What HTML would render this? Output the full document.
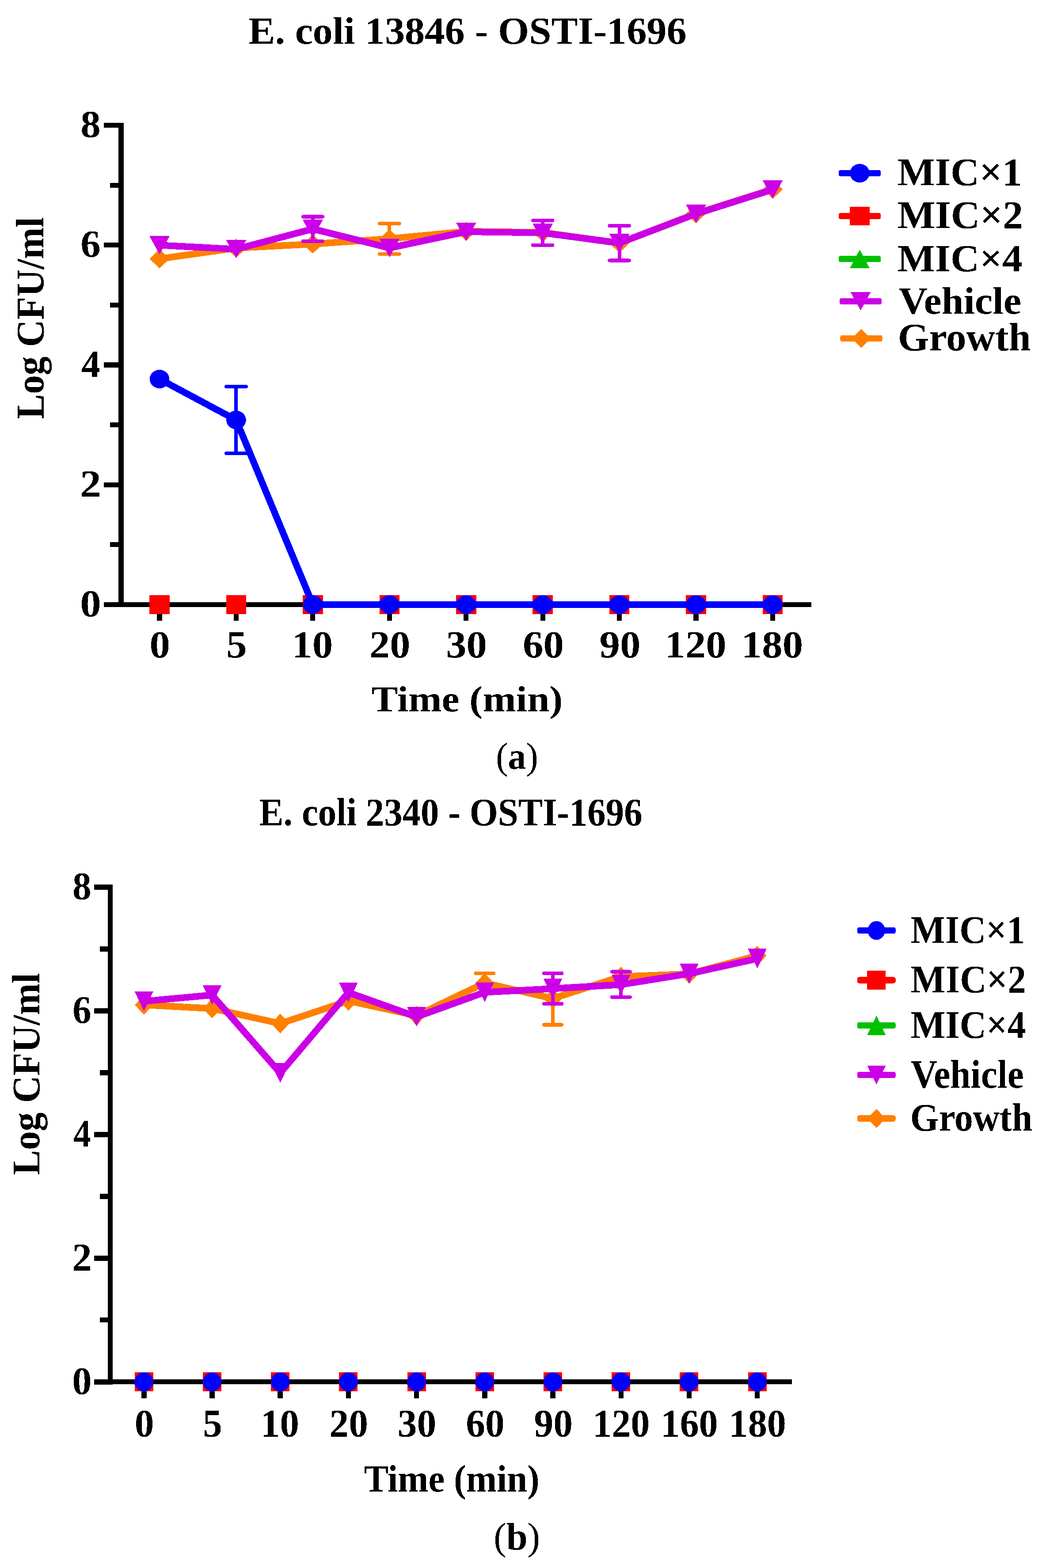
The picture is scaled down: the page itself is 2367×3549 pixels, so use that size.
<!DOCTYPE html>
<html><head><meta charset="utf-8"><title>Time-kill curves</title><style>html,body{margin:0;padding:0;background:#fff;}svg{display:block;}</style></head><body>
<svg width="2367" height="3549" viewBox="0 0 2367 3549" font-family="Liberation Serif, Times New Roman, serif">
<rect width="2367" height="3549" fill="#fff"/>
<defs><filter id="bin" x="0" y="0" width="100%" height="100%" filterUnits="userSpaceOnUse"><feComponentTransfer><feFuncA type="discrete" tableValues="0 1"/></feComponentTransfer></filter></defs>
<g filter="url(#bin)">
<rect x="268.20" y="278.00" width="11.60" height="1096.00" fill="#000"/>
<rect x="235.00" y="1362.80" width="34.20" height="11.20" fill="#000"/>
<rect x="249.00" y="1227.19" width="20.20" height="11.20" fill="#000"/>
<rect x="235.00" y="1091.58" width="34.20" height="11.20" fill="#000"/>
<rect x="249.00" y="955.96" width="20.20" height="11.20" fill="#000"/>
<rect x="235.00" y="820.35" width="34.20" height="11.20" fill="#000"/>
<rect x="249.00" y="684.74" width="20.20" height="11.20" fill="#000"/>
<rect x="235.00" y="549.12" width="34.20" height="11.20" fill="#000"/>
<rect x="249.00" y="413.51" width="20.20" height="11.20" fill="#000"/>
<rect x="235.00" y="277.90" width="34.20" height="11.20" fill="#000"/>
<rect x="235.00" y="1362.80" width="1601.00" height="11.20" fill="#000"/>
<rect x="355.40" y="1368.40" width="11.20" height="36.60" fill="#000"/>
<rect x="528.84" y="1368.40" width="11.20" height="36.60" fill="#000"/>
<rect x="702.27" y="1368.40" width="11.20" height="36.60" fill="#000"/>
<rect x="875.71" y="1368.40" width="11.20" height="36.60" fill="#000"/>
<rect x="1049.15" y="1368.40" width="11.20" height="36.60" fill="#000"/>
<rect x="1222.59" y="1368.40" width="11.20" height="36.60" fill="#000"/>
<rect x="1396.03" y="1368.40" width="11.20" height="36.60" fill="#000"/>
<rect x="1569.46" y="1368.40" width="11.20" height="36.60" fill="#000"/>
<rect x="1742.90" y="1368.40" width="11.20" height="36.60" fill="#000"/>
<polyline points="361.00,585.80 534.44,561.40 707.88,552.30 881.31,540.40 1054.75,523.70 1228.19,526.00 1401.62,550.50 1575.06,483.40 1748.50,428.40" fill="none" stroke="#FF8000" stroke-width="15.2" stroke-linejoin="round" stroke-linecap="butt"/>
<g stroke="#FF8000" stroke-width="8" stroke-linecap="round" fill="none"><line x1="881.31" y1="505.90" x2="881.31" y2="574.80" stroke-linecap="butt"/><line x1="859.01" y1="505.90" x2="903.61" y2="505.90"/><line x1="859.01" y1="574.80" x2="903.61" y2="574.80"/></g>
<polygon points="361.00,564.30 383.80,585.80 361.00,607.30 338.20,585.80" fill="#FF8000"/>
<polygon points="534.44,539.90 557.24,561.40 534.44,582.90 511.64,561.40" fill="#FF8000"/>
<polygon points="707.88,530.80 730.67,552.30 707.88,573.80 685.08,552.30" fill="#FF8000"/>
<polygon points="881.31,518.90 904.11,540.40 881.31,561.90 858.51,540.40" fill="#FF8000"/>
<polygon points="1054.75,502.20 1077.55,523.70 1054.75,545.20 1031.95,523.70" fill="#FF8000"/>
<polygon points="1228.19,504.50 1250.99,526.00 1228.19,547.50 1205.39,526.00" fill="#FF8000"/>
<polygon points="1401.62,529.00 1424.42,550.50 1401.62,572.00 1378.83,550.50" fill="#FF8000"/>
<polygon points="1575.06,461.90 1597.86,483.40 1575.06,504.90 1552.26,483.40" fill="#FF8000"/>
<polygon points="1748.50,406.90 1771.30,428.40 1748.50,449.90 1725.70,428.40" fill="#FF8000"/>
<polyline points="361.00,555.00 534.44,564.00 707.88,518.20 881.31,561.20 1054.75,524.50 1228.19,527.00 1401.62,550.00 1575.06,484.00 1748.50,429.00" fill="none" stroke="#CC00E6" stroke-width="15.2" stroke-linejoin="round" stroke-linecap="butt"/>
<g stroke="#CC00E6" stroke-width="8" stroke-linecap="round" fill="none"><line x1="707.88" y1="490.50" x2="707.88" y2="546.00" stroke-linecap="butt"/><line x1="685.58" y1="490.50" x2="730.17" y2="490.50"/><line x1="685.58" y1="546.00" x2="730.17" y2="546.00"/></g>
<g stroke="#CC00E6" stroke-width="8" stroke-linecap="round" fill="none"><line x1="1228.19" y1="499.00" x2="1228.19" y2="554.80" stroke-linecap="butt"/><line x1="1205.89" y1="499.00" x2="1250.49" y2="499.00"/><line x1="1205.89" y1="554.80" x2="1250.49" y2="554.80"/></g>
<g stroke="#CC00E6" stroke-width="8" stroke-linecap="round" fill="none"><line x1="1401.62" y1="510.90" x2="1401.62" y2="589.50" stroke-linecap="butt"/><line x1="1379.33" y1="510.90" x2="1423.92" y2="510.90"/><line x1="1379.33" y1="589.50" x2="1423.92" y2="589.50"/></g>
<polygon points="338.15,534.20 383.85,534.20 361.00,575.80" fill="#CC00E6"/>
<polygon points="511.59,543.20 557.29,543.20 534.44,584.80" fill="#CC00E6"/>
<polygon points="685.02,497.40 730.73,497.40 707.88,539.00" fill="#CC00E6"/>
<polygon points="858.46,540.40 904.16,540.40 881.31,582.00" fill="#CC00E6"/>
<polygon points="1031.90,503.70 1077.60,503.70 1054.75,545.30" fill="#CC00E6"/>
<polygon points="1205.34,506.20 1251.04,506.20 1228.19,547.80" fill="#CC00E6"/>
<polygon points="1378.78,529.20 1424.47,529.20 1401.62,570.80" fill="#CC00E6"/>
<polygon points="1552.21,463.20 1597.91,463.20 1575.06,504.80" fill="#CC00E6"/>
<polygon points="1725.65,408.20 1771.35,408.20 1748.50,449.80" fill="#CC00E6"/>
<polygon points="361.00,1347.00 383.75,1389.80 338.25,1389.80" fill="#00C000"/>
<polygon points="534.44,1347.00 557.19,1389.80 511.69,1389.80" fill="#00C000"/>
<polygon points="707.88,1347.00 730.62,1389.80 685.12,1389.80" fill="#00C000"/>
<polygon points="881.31,1347.00 904.06,1389.80 858.56,1389.80" fill="#00C000"/>
<polygon points="1054.75,1347.00 1077.50,1389.80 1032.00,1389.80" fill="#00C000"/>
<polygon points="1228.19,1347.00 1250.94,1389.80 1205.44,1389.80" fill="#00C000"/>
<polygon points="1401.62,1347.00 1424.38,1389.80 1378.88,1389.80" fill="#00C000"/>
<polygon points="1575.06,1347.00 1597.81,1389.80 1552.31,1389.80" fill="#00C000"/>
<polygon points="1748.50,1347.00 1771.25,1389.80 1725.75,1389.80" fill="#00C000"/>
<rect x="338.20" y="1347.00" width="45.60" height="42.80" fill="#FF0000"/>
<rect x="511.64" y="1347.00" width="45.60" height="42.80" fill="#FF0000"/>
<rect x="685.08" y="1347.00" width="45.60" height="42.80" fill="#FF0000"/>
<rect x="858.51" y="1347.00" width="45.60" height="42.80" fill="#FF0000"/>
<rect x="1031.95" y="1347.00" width="45.60" height="42.80" fill="#FF0000"/>
<rect x="1205.39" y="1347.00" width="45.60" height="42.80" fill="#FF0000"/>
<rect x="1378.83" y="1347.00" width="45.60" height="42.80" fill="#FF0000"/>
<rect x="1552.26" y="1347.00" width="45.60" height="42.80" fill="#FF0000"/>
<rect x="1725.70" y="1347.00" width="45.60" height="42.80" fill="#FF0000"/>
<polyline points="361.00,857.90 534.44,950.60 707.88,1368.40 881.31,1368.40 1054.75,1368.40 1228.19,1368.40 1401.62,1368.40 1575.06,1368.40 1748.50,1368.40" fill="none" stroke="#0000FF" stroke-width="15.2" stroke-linejoin="round" stroke-linecap="butt"/>
<g stroke="#0000FF" stroke-width="8" stroke-linecap="round" fill="none"><line x1="534.44" y1="875.00" x2="534.44" y2="1025.90" stroke-linecap="butt"/><line x1="511.94" y1="875.00" x2="556.94" y2="875.00"/><line x1="511.94" y1="1025.90" x2="556.94" y2="1025.90"/></g>
<ellipse cx="361.00" cy="857.90" rx="22.30" ry="21.10" fill="#0000FF"/>
<ellipse cx="534.44" cy="950.60" rx="22.30" ry="21.10" fill="#0000FF"/>
<ellipse cx="707.88" cy="1368.40" rx="22.30" ry="21.10" fill="#0000FF"/>
<ellipse cx="881.31" cy="1368.40" rx="22.30" ry="21.10" fill="#0000FF"/>
<ellipse cx="1054.75" cy="1368.40" rx="22.30" ry="21.10" fill="#0000FF"/>
<ellipse cx="1228.19" cy="1368.40" rx="22.30" ry="21.10" fill="#0000FF"/>
<ellipse cx="1401.62" cy="1368.40" rx="22.30" ry="21.10" fill="#0000FF"/>
<ellipse cx="1575.06" cy="1368.40" rx="22.30" ry="21.10" fill="#0000FF"/>
<ellipse cx="1748.50" cy="1368.40" rx="22.30" ry="21.10" fill="#0000FF"/>
<rect x="244.00" y="2001.80" width="11.00" height="1131.65" fill="#000"/>
<rect x="213.00" y="3121.95" width="32.00" height="11.50" fill="#000"/>
<rect x="226.00" y="2981.97" width="19.00" height="11.50" fill="#000"/>
<rect x="213.00" y="2842.00" width="32.00" height="11.50" fill="#000"/>
<rect x="226.00" y="2702.03" width="19.00" height="11.50" fill="#000"/>
<rect x="213.00" y="2562.05" width="32.00" height="11.50" fill="#000"/>
<rect x="226.00" y="2422.07" width="19.00" height="11.50" fill="#000"/>
<rect x="213.00" y="2282.10" width="32.00" height="11.50" fill="#000"/>
<rect x="226.00" y="2142.12" width="19.00" height="11.50" fill="#000"/>
<rect x="213.00" y="2002.15" width="32.00" height="11.50" fill="#000"/>
<rect x="213.00" y="3121.95" width="1579.20" height="11.50" fill="#000"/>
<rect x="320.05" y="3127.70" width="11.50" height="37.10" fill="#000"/>
<rect x="474.26" y="3127.70" width="11.50" height="37.10" fill="#000"/>
<rect x="628.47" y="3127.70" width="11.50" height="37.10" fill="#000"/>
<rect x="782.68" y="3127.70" width="11.50" height="37.10" fill="#000"/>
<rect x="936.89" y="3127.70" width="11.50" height="37.10" fill="#000"/>
<rect x="1091.11" y="3127.70" width="11.50" height="37.10" fill="#000"/>
<rect x="1245.32" y="3127.70" width="11.50" height="37.10" fill="#000"/>
<rect x="1399.53" y="3127.70" width="11.50" height="37.10" fill="#000"/>
<rect x="1553.74" y="3127.70" width="11.50" height="37.10" fill="#000"/>
<rect x="1707.95" y="3127.70" width="11.50" height="37.10" fill="#000"/>
<polyline points="325.80,2274.40 480.01,2282.60 634.22,2316.60 788.43,2265.30 942.64,2298.80 1096.86,2224.90 1251.07,2260.00 1405.28,2210.40 1559.49,2204.40 1713.70,2163.10" fill="none" stroke="#FF8000" stroke-width="15.2" stroke-linejoin="round" stroke-linecap="butt"/>
<g stroke="#FF8000" stroke-width="8" stroke-linecap="round" fill="none"><line x1="1096.86" y1="2224.90" x2="1096.86" y2="2202.90" stroke-linecap="butt"/><line x1="1076.46" y1="2202.90" x2="1117.26" y2="2202.90"/></g>
<g stroke="#FF8000" stroke-width="8" stroke-linecap="round" fill="none"><line x1="1251.07" y1="2260.00" x2="1251.07" y2="2319.40" stroke-linecap="butt"/><line x1="1230.67" y1="2319.40" x2="1271.47" y2="2319.40"/></g>
<polygon points="325.80,2252.00 346.50,2274.40 325.80,2296.80 305.10,2274.40" fill="#FF8000"/>
<polygon points="480.01,2260.20 500.71,2282.60 480.01,2305.00 459.31,2282.60" fill="#FF8000"/>
<polygon points="634.22,2294.20 654.92,2316.60 634.22,2339.00 613.52,2316.60" fill="#FF8000"/>
<polygon points="788.43,2242.90 809.13,2265.30 788.43,2287.70 767.73,2265.30" fill="#FF8000"/>
<polygon points="942.64,2276.40 963.34,2298.80 942.64,2321.20 921.94,2298.80" fill="#FF8000"/>
<polygon points="1096.86,2202.50 1117.56,2224.90 1096.86,2247.30 1076.16,2224.90" fill="#FF8000"/>
<polygon points="1251.07,2237.60 1271.77,2260.00 1251.07,2282.40 1230.37,2260.00" fill="#FF8000"/>
<polygon points="1405.28,2188.00 1425.98,2210.40 1405.28,2232.80 1384.58,2210.40" fill="#FF8000"/>
<polygon points="1559.49,2182.00 1580.19,2204.40 1559.49,2226.80 1538.79,2204.40" fill="#FF8000"/>
<polygon points="1713.70,2140.70 1734.40,2163.10 1713.70,2185.50 1693.00,2163.10" fill="#FF8000"/>
<polyline points="325.80,2266.20 480.01,2252.20 634.22,2428.70 788.43,2246.30 942.64,2301.50 1096.86,2245.90 1251.07,2237.70 1405.28,2228.60 1559.49,2203.80 1713.70,2169.80" fill="none" stroke="#CC00E6" stroke-width="15.2" stroke-linejoin="round" stroke-linecap="butt"/>
<g stroke="#CC00E6" stroke-width="8" stroke-linecap="round" fill="none"><line x1="1251.07" y1="2203.00" x2="1251.07" y2="2271.90" stroke-linecap="butt"/><line x1="1230.67" y1="2203.00" x2="1271.47" y2="2203.00"/><line x1="1230.67" y1="2271.90" x2="1271.47" y2="2271.90"/></g>
<g stroke="#CC00E6" stroke-width="8" stroke-linecap="round" fill="none"><line x1="1405.28" y1="2199.40" x2="1405.28" y2="2256.80" stroke-linecap="butt"/><line x1="1384.88" y1="2199.40" x2="1425.68" y2="2199.40"/><line x1="1384.88" y1="2256.80" x2="1425.68" y2="2256.80"/></g>
<polygon points="304.60,2244.00 347.00,2244.00 325.80,2288.40" fill="#CC00E6"/>
<polygon points="458.81,2230.00 501.21,2230.00 480.01,2274.40" fill="#CC00E6"/>
<polygon points="613.02,2406.50 655.42,2406.50 634.22,2450.90" fill="#CC00E6"/>
<polygon points="767.23,2224.10 809.63,2224.10 788.43,2268.50" fill="#CC00E6"/>
<polygon points="921.44,2279.30 963.84,2279.30 942.64,2323.70" fill="#CC00E6"/>
<polygon points="1075.66,2223.70 1118.06,2223.70 1096.86,2268.10" fill="#CC00E6"/>
<polygon points="1229.87,2215.50 1272.27,2215.50 1251.07,2259.90" fill="#CC00E6"/>
<polygon points="1384.08,2206.40 1426.48,2206.40 1405.28,2250.80" fill="#CC00E6"/>
<polygon points="1538.29,2181.60 1580.69,2181.60 1559.49,2226.00" fill="#CC00E6"/>
<polygon points="1692.50,2147.60 1734.90,2147.60 1713.70,2192.00" fill="#CC00E6"/>
<polygon points="325.80,3106.20 346.80,3149.20 304.80,3149.20" fill="#00C000"/>
<polygon points="480.01,3106.20 501.01,3149.20 459.01,3149.20" fill="#00C000"/>
<polygon points="634.22,3106.20 655.22,3149.20 613.22,3149.20" fill="#00C000"/>
<polygon points="788.43,3106.20 809.43,3149.20 767.43,3149.20" fill="#00C000"/>
<polygon points="942.64,3106.20 963.64,3149.20 921.64,3149.20" fill="#00C000"/>
<polygon points="1096.86,3106.20 1117.86,3149.20 1075.86,3149.20" fill="#00C000"/>
<polygon points="1251.07,3106.20 1272.07,3149.20 1230.07,3149.20" fill="#00C000"/>
<polygon points="1405.28,3106.20 1426.28,3149.20 1384.28,3149.20" fill="#00C000"/>
<polygon points="1559.49,3106.20 1580.49,3149.20 1538.49,3149.20" fill="#00C000"/>
<polygon points="1713.70,3106.20 1734.70,3149.20 1692.70,3149.20" fill="#00C000"/>
<rect x="304.80" y="3106.20" width="42.00" height="43.00" fill="#FF0000"/>
<rect x="459.01" y="3106.20" width="42.00" height="43.00" fill="#FF0000"/>
<rect x="613.22" y="3106.20" width="42.00" height="43.00" fill="#FF0000"/>
<rect x="767.43" y="3106.20" width="42.00" height="43.00" fill="#FF0000"/>
<rect x="921.64" y="3106.20" width="42.00" height="43.00" fill="#FF0000"/>
<rect x="1075.86" y="3106.20" width="42.00" height="43.00" fill="#FF0000"/>
<rect x="1230.07" y="3106.20" width="42.00" height="43.00" fill="#FF0000"/>
<rect x="1384.28" y="3106.20" width="42.00" height="43.00" fill="#FF0000"/>
<rect x="1538.49" y="3106.20" width="42.00" height="43.00" fill="#FF0000"/>
<rect x="1692.70" y="3106.20" width="42.00" height="43.00" fill="#FF0000"/>
<ellipse cx="325.80" cy="3127.70" rx="21.00" ry="21.50" fill="#0000FF"/>
<ellipse cx="480.01" cy="3127.70" rx="21.00" ry="21.50" fill="#0000FF"/>
<ellipse cx="634.22" cy="3127.70" rx="21.00" ry="21.50" fill="#0000FF"/>
<ellipse cx="788.43" cy="3127.70" rx="21.00" ry="21.50" fill="#0000FF"/>
<ellipse cx="942.64" cy="3127.70" rx="21.00" ry="21.50" fill="#0000FF"/>
<ellipse cx="1096.86" cy="3127.70" rx="21.00" ry="21.50" fill="#0000FF"/>
<ellipse cx="1251.07" cy="3127.70" rx="21.00" ry="21.50" fill="#0000FF"/>
<ellipse cx="1405.28" cy="3127.70" rx="21.00" ry="21.50" fill="#0000FF"/>
<ellipse cx="1559.49" cy="3127.70" rx="21.00" ry="21.50" fill="#0000FF"/>
<ellipse cx="1713.70" cy="3127.70" rx="21.00" ry="21.50" fill="#0000FF"/>
<rect x="1898.00" y="385.00" width="95.00" height="14" rx="4" ry="4" fill="#0000FF"/>
<ellipse cx="1945.50" cy="392.00" rx="22.20" ry="21.10" fill="#0000FF"/>
<text transform="translate(2030.39,419.10) scale(1.0117,1)" font-size="89.38" font-weight="bold">MIC×1</text>
<rect x="1898.00" y="482.00" width="95.00" height="14" rx="4" ry="4" fill="#FF0000"/>
<rect x="1923.00" y="467.90" width="45.00" height="42.20" fill="#FF0000"/>
<text transform="translate(2030.38,515.70) scale(1.0260,1)" font-size="88.77" font-weight="bold">MIC×2</text>
<rect x="1898.00" y="579.20" width="95.00" height="14" rx="4" ry="4" fill="#00C000"/>
<polygon points="1945.50,565.05 1968.00,607.35 1923.00,607.35" fill="#00C000"/>
<text transform="translate(2030.39,613.50) scale(1.0366,1)" font-size="87.38" font-weight="bold">MIC×4</text>
<rect x="1900.00" y="675.00" width="95.00" height="14" rx="4" ry="4" fill="#CC00E6"/>
<polygon points="1924.70,661.15 1970.30,661.15 1947.50,702.85" fill="#CC00E6"/>
<text transform="translate(2033.50,709.50) scale(1.0392,1)" font-size="86.92" font-weight="bold">Vehicle</text>
<rect x="1901.50" y="759.00" width="95.00" height="14" rx="4" ry="4" fill="#FF8000"/>
<polygon points="1949.00,744.70 1970.30,766.00 1949.00,787.30 1927.70,766.00" fill="#FF8000"/>
<text transform="translate(2031.66,792.82) scale(1.0315,1)" font-size="88.06" font-weight="bold">Growth</text>
<rect x="1940.00" y="2099.00" width="86.60" height="14" rx="4" ry="4" fill="#0000FF"/>
<ellipse cx="1983.30" cy="2106.00" rx="19.50" ry="21.35" fill="#0000FF"/>
<text transform="translate(2060.84,2134.10) scale(0.9211,1)" font-size="89.85" font-weight="bold">MIC×1</text>
<rect x="1940.00" y="2211.50" width="86.60" height="14" rx="4" ry="4" fill="#FF0000"/>
<rect x="1962.35" y="2197.25" width="41.90" height="42.50" fill="#FF0000"/>
<text transform="translate(2060.83,2245.90) scale(0.9333,1)" font-size="89.54" font-weight="bold">MIC×2</text>
<rect x="1940.00" y="2313.80" width="86.60" height="14" rx="4" ry="4" fill="#00C000"/>
<polygon points="1983.30,2298.85 2004.40,2342.75 1962.20,2342.75" fill="#00C000"/>
<text transform="translate(2060.83,2349.30) scale(0.9272,1)" font-size="89.85" font-weight="bold">MIC×4</text>
<rect x="1940.00" y="2426.10" width="86.60" height="14" rx="4" ry="4" fill="#CC00E6"/>
<polygon points="1962.20,2411.70 2004.40,2411.70 1983.30,2454.50" fill="#CC00E6"/>
<text transform="translate(2060.87,2462.00) scale(0.9254,1)" font-size="90.00" font-weight="bold">Vehicle</text>
<rect x="1940.00" y="2524.60" width="86.60" height="14" rx="4" ry="4" fill="#FF8000"/>
<polygon points="1983.30,2509.95 2004.00,2531.60 1983.30,2553.25 1962.60,2531.60" fill="#FF8000"/>
<text transform="translate(2059.63,2558.90) scale(0.9306,1)" font-size="89.70" font-weight="bold">Growth</text>
<text transform="translate(562.19,98.80) scale(1.0343,1)" font-size="87.38" font-weight="bold">E. coli 13846 - OSTI-1696</text>
<text transform="translate(586.24,1867.90) scale(0.9283,1)" font-size="89.23" font-weight="bold">E. coli 2340 - OSTI-1696</text>
<text transform="translate(181.19,1395.16) scale(1.0977,1)" font-size="86.76" font-weight="bold">0</text>
<text transform="translate(163.15,3154.94) scale(1.0065,1)" font-size="88.24" font-weight="bold">0</text>
<text transform="translate(181.19,1123.94) scale(1.0977,1)" font-size="86.76" font-weight="bold">2</text>
<text transform="translate(163.15,2874.99) scale(1.0065,1)" font-size="88.24" font-weight="bold">2</text>
<text transform="translate(184.15,852.71) scale(0.9809,1)" font-size="86.76" font-weight="bold">4</text>
<text transform="translate(165.91,2595.04) scale(0.8994,1)" font-size="88.24" font-weight="bold">4</text>
<text transform="translate(182.27,581.49) scale(1.0478,1)" font-size="86.76" font-weight="bold">6</text>
<text transform="translate(164.16,2315.09) scale(0.9608,1)" font-size="88.24" font-weight="bold">6</text>
<text transform="translate(182.27,310.26) scale(1.0478,1)" font-size="86.76" font-weight="bold">8</text>
<text transform="translate(164.16,2035.14) scale(0.9608,1)" font-size="88.24" font-weight="bold">8</text>
<text transform="translate(338.56,1488.07) scale(1.0750,1)" font-size="86.47" font-weight="bold">0</text>
<text transform="translate(512.00,1488.07) scale(1.0750,1)" font-size="86.47" font-weight="bold">5</text>
<text transform="translate(660.34,1488.07) scale(1.0750,1)" font-size="86.47" font-weight="bold">10</text>
<text transform="translate(835.63,1488.07) scale(1.0750,1)" font-size="86.47" font-weight="bold">20</text>
<text transform="translate(1009.07,1488.07) scale(1.0750,1)" font-size="86.47" font-weight="bold">30</text>
<text transform="translate(1182.97,1488.07) scale(1.0750,1)" font-size="86.47" font-weight="bold">60</text>
<text transform="translate(1356.41,1488.07) scale(1.0750,1)" font-size="86.47" font-weight="bold">90</text>
<text transform="translate(1504.29,1488.07) scale(1.0750,1)" font-size="86.47" font-weight="bold">120</text>
<text transform="translate(1677.72,1488.07) scale(1.0750,1)" font-size="86.47" font-weight="bold">180</text>
<text transform="translate(304.73,3250.93) scale(0.9900,1)" font-size="88.38" font-weight="bold">0</text>
<text transform="translate(458.94,3250.93) scale(0.9900,1)" font-size="88.38" font-weight="bold">5</text>
<text transform="translate(589.52,3250.93) scale(0.9900,1)" font-size="88.38" font-weight="bold">10</text>
<text transform="translate(745.48,3250.93) scale(0.9900,1)" font-size="88.38" font-weight="bold">20</text>
<text transform="translate(899.70,3250.93) scale(0.9900,1)" font-size="88.38" font-weight="bold">30</text>
<text transform="translate(1054.34,3250.93) scale(0.9900,1)" font-size="88.38" font-weight="bold">60</text>
<text transform="translate(1208.55,3250.93) scale(0.9900,1)" font-size="88.38" font-weight="bold">90</text>
<text transform="translate(1341.12,3250.93) scale(0.9750,1)" font-size="88.38" font-weight="bold">120</text>
<text transform="translate(1495.34,3250.93) scale(0.9750,1)" font-size="88.38" font-weight="bold">160</text>
<text transform="translate(1649.55,3250.93) scale(0.9750,1)" font-size="88.38" font-weight="bold">180</text>
<text transform="translate(840.19,1610.20) scale(1.0859,1)" font-size="83.38" font-weight="bold">Time (min)</text>
<text transform="translate(823.44,3375.70) scale(0.9533,1)" font-size="87.08" font-weight="bold">Time (min)</text>
<text transform="translate(98.10,948.71) rotate(-90) scale(0.9683,1)" font-size="88.15" font-weight="bold">Log CFU/ml</text>
<text transform="translate(88.70,2659.81) rotate(-90) scale(0.9632,1)" font-size="88.62" font-weight="bold">Log CFU/ml</text>
<text transform="translate(1122.22,1740.03) scale(0.9578,1)" font-size="85.56" font-weight="normal">(<tspan font-weight="bold">a</tspan>)</text>
<text transform="translate(1117.37,3506.81) scale(0.9838,1)" font-size="87.11" font-weight="normal">(<tspan font-weight="bold">b</tspan>)</text>
</g>
</svg>
</body></html>
